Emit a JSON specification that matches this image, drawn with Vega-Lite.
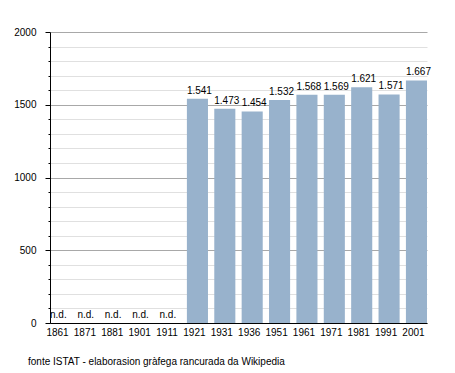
{
  "$schema": "https://vega.github.io/schema/vega-lite/v6.json",
  "autosize": "none",
  "width": 377,
  "height": 291,
  "padding": {"left": 50, "top": 32, "right": 28, "bottom": 50},
  "background": "white",
  "title": {
    "text": "fonte ISTAT - elaborasion gràfega rancurada da Wikipedia",
    "orient": "bottom",
    "anchor": "start",
    "frame": "group",
    "dx": -22,
    "offset": 20,
    "font": "Liberation Sans",
    "fontSize": 10,
    "fontWeight": "normal",
    "color": "#000000"
  },
  "config": {
    "view": {"stroke": null},
    "locale": {"number": {"decimal": ",", "thousands": ".", "grouping": [3], "currency": ["€", ""]}},
    "font": "Liberation Sans"
  },
  "data": {
    "values": [
      {"year": "1861", "pop": null},
      {"year": "1871", "pop": null},
      {"year": "1881", "pop": null},
      {"year": "1901", "pop": null},
      {"year": "1911", "pop": null},
      {"year": "1921", "pop": 1541},
      {"year": "1931", "pop": 1473},
      {"year": "1936", "pop": 1454},
      {"year": "1951", "pop": 1532},
      {"year": "1961", "pop": 1568},
      {"year": "1971", "pop": 1569},
      {"year": "1981", "pop": 1621},
      {"year": "1991", "pop": 1571},
      {"year": "2001", "pop": 1667}
    ]
  },
  "encoding": {
    "x": {
      "field": "year",
      "type": "ordinal",
      "scale": {"domain": ["1861", "1871", "1881", "1901", "1911", "1921", "1931", "1936", "1951", "1961", "1971", "1981", "1991", "2001"], "paddingInner": 0.23, "paddingOuter": 0},
      "axis": {
        "title": null,
        "labelAngle": 0,
        "ticks": false,
        "labelPadding": 4,
        "labelOffset": -3,
        "labelFont": "Liberation Sans",
        "labelFontSize": 10,
        "labelColor": "#000000",
        "domainColor": "#000000",
        "domainWidth": 1,
        "grid": false
      }
    },
    "y": {
      "type": "quantitative",
      "scale": {"domain": [0, 2000], "nice": false},
      "axis": {
        "title": null,
        "values": [0, 100, 200, 300, 400, 500, 600, 700, 800, 900, 1000, 1100, 1200, 1300, 1400, 1500, 1600, 1700, 1800, 1900, 2000],
        "labelExpr": "datum.value % 500 === 0 ? '' + datum.value : ''",
        "labelOverlap": false,
        "grid": true,
        "gridColor": {"condition": {"test": "datum.value % 500 === 0", "value": "#a8a8a8"}, "value": "#e0e0e0"},
        "gridWidth": 1,
        "tickSize": {"condition": {"test": "datum.value % 500 === 0", "value": 5}, "value": 2},
        "tickColor": "#000000",
        "domainColor": "#000000",
        "labelPadding": 9,
        "labelFont": "Liberation Sans",
        "labelFontSize": 10,
        "labelColor": "#000000"
      }
    }
  },
  "layer": [
    {
      "mark": {"type": "bar", "color": "#98b2cc"},
      "encoding": {
        "y": {"field": "pop"}
      }
    },
    {
      "transform": [{"filter": "isValid(datum.pop)"}],
      "mark": {"type": "text", "align": "left", "baseline": "alphabetic", "dy": -5, "font": "Liberation Sans", "fontSize": 10, "color": "#000000"},
      "encoding": {
        "x": {"field": "year", "type": "ordinal", "bandPosition": 0},
        "y": {"field": "pop"},
        "text": {"field": "pop", "type": "quantitative", "format": ",d"}
      }
    },
    {
      "transform": [{"filter": "!isValid(datum.pop)"}],
      "mark": {"type": "text", "align": "left", "baseline": "alphabetic", "dy": -5, "font": "Liberation Sans", "fontSize": 10, "color": "#000000", "text": "n.d."},
      "encoding": {
        "x": {"field": "year", "type": "ordinal", "bandPosition": 0},
        "y": {"datum": 0}
      }
    }
  ]
}
